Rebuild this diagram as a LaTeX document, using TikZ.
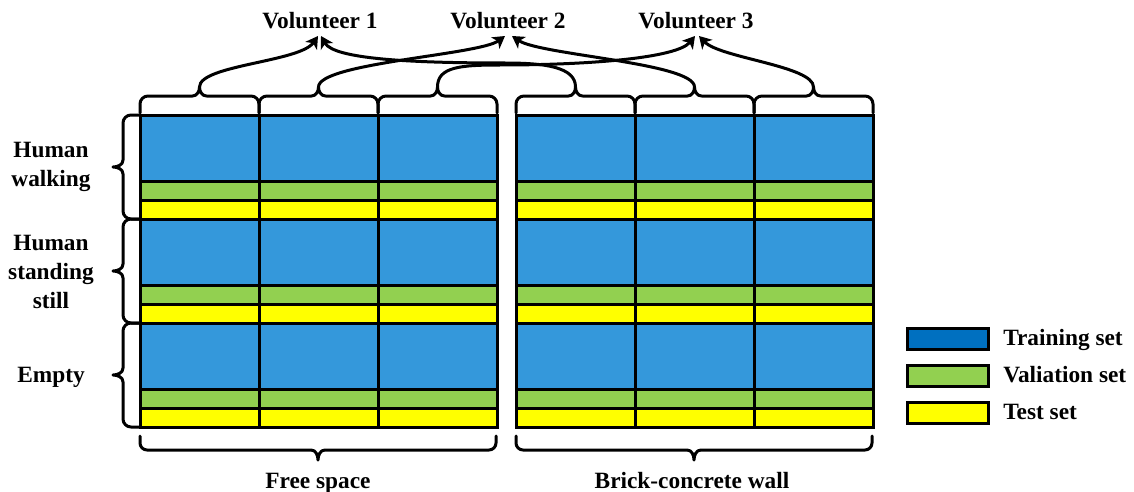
\documentclass[tikz,border=0pt]{standalone}
\usepackage{fontspec}
\setmainfont{Liberation Serif}
\usetikzlibrary{arrows.meta}
\definecolor{trainblue}{RGB}{52,152,219}
\definecolor{trainkey}{RGB}{0,112,192}
\definecolor{valgreen}{RGB}{146,208,80}
\definecolor{testyellow}{RGB}{255,255,0}

% horizontal brace opening downwards: #1 left x, #2 right x, #3 tip name
\newcommand{\topbrace}[3]{%
  \pgfmathsetmacro{\bm}{(#1+#2)/2}%
  \draw[brace] (#1,113) -- (#1,104) to[out=90,in=180] ({#1+8},96) -- ({\bm-7},96)
    to[out=0,in=-90] (\bm,87) to[out=-90,in=180] ({\bm+7},96) -- ({#2-8},96)
    to[out=0,in=90] (#2,104) -- (#2,113);
  \coordinate (#3) at (\bm,87);}
% horizontal brace opening upwards
\newcommand{\botbrace}[2]{%
  \pgfmathsetmacro{\bm}{(#1+#2)/2}%
  \draw[brace] (#1,436) -- (#1,443) to[out=-90,in=180] ({#1+7},450) -- ({\bm-7},450)
    to[out=0,in=90] (\bm,460) to[out=90,in=180] ({\bm+7},450) -- ({#2-7},450)
    to[out=0,in=-90] (#2,443) -- (#2,436);}
% vertical brace opening to the right
\newcommand{\sidebrace}[2]{%
  \pgfmathsetmacro{\bm}{(#1+#2)/2}%
  \draw[brace] (139,#1) -- (131,#1) to[out=180,in=90] (123,{#1+8}) -- (123,{\bm-7})
    to[out=-90,in=0] (113,\bm) to[out=0,in=90] (123,{\bm+7}) -- (123,{#2-8})
    to[out=-90,in=180] (131,#2) -- (139,#2);}

\begin{document}
\begin{tikzpicture}[x=0.75pt,y=-0.75pt,
  lbl/.style={font=\fontsize{17.5}{21.75}\selectfont\bfseries, inner sep=0pt},
  cell/.style={draw=black, line width=2.25pt},
  brace/.style={draw=black, line width=2.25pt, line cap=round, line join=round},
  link/.style={draw=black, line width=2.25pt, line cap=round,
    -{Stealth[length=9pt,width=10.5pt,inset=2.5pt]}}]
\useasboundingbox (0,0) rectangle (1134,492);

% data grid: two blocks, three volunteers, three scenarios
\foreach \bx in {140,516} {
  \foreach \c in {0,1,2} {
    \foreach \gy in {115,219,323} {
      \pgfmathsetmacro{\cx}{\bx+\c*119}
      \filldraw[cell, fill=trainblue] (\cx,\gy) rectangle ++(119,66);
      \filldraw[cell, fill=valgreen] (\cx,{\gy+66}) rectangle ++(119,19);
      \filldraw[cell, fill=testyellow] (\cx,{\gy+85}) rectangle ++(119,19);
    }
  }
}

% braces over the columns
\topbrace{140}{259}{bL1}
\topbrace{259}{378}{bL2}
\topbrace{378}{497}{bL3}
\topbrace{516}{635}{bR1}
\topbrace{635}{754}{bR2}
\topbrace{754}{873}{bR3}

% braces beside the scenarios
\sidebrace{115}{219}
\sidebrace{219}{323}
\sidebrace{323}{427}

% braces under the blocks
\botbrace{140}{496}
\botbrace{516}{872}

% volunteer labels and arrow ends
\node[lbl] (vol1) at (320,21) {Volunteer 1};
\node[lbl] (vol2) at (508,21) {Volunteer 2};
\node[lbl] (vol3) at (696,21) {Volunteer 3};
\coordinate (v1a) at (318,36);
\coordinate (v1b) at (321,36);
\coordinate (v2a) at (505,36);
\coordinate (v2b) at (512,36);
\coordinate (v3a) at (695,36);
\coordinate (v3b) at (699,36);

% each column of each block goes to its volunteer
\draw[link] (bL1) .. controls +(0,-22) and +(-18,26) .. (v1a);
\draw[link] (bR1) .. controls +(0,-20) and +(40,0) .. (505,63)
  .. controls +(-95,0) and +(13,23) .. (v1b);
\draw[link] (bL2) .. controls +(0,-24) and +(-26,19) .. (v2a);
\draw[link] (bR2) .. controls +(0,-24) and +(28,19) .. (v2b);
\draw[link] (bL3) .. controls +(0,-20) and +(-40,0) .. (500,65)
  .. controls +(90,0) and +(-18,22) .. (v3a);
\draw[link] (bR3) .. controls +(0,-21) and +(21,22) .. (v3b);

% scenario labels
\node[lbl, align=center] (walk) at (51,167) {Human\\walking};
\node[lbl, align=center] (stand) at (51,272) {Human\\standing\\still};
\node[lbl] (empty) at (51,377) {Empty};

% environment labels
\node[lbl, anchor=base] (free) at (318,488) {Free space};
\node[lbl, anchor=base] (wall) at (692,488) {Brick-concrete wall};

% legend
\filldraw[cell, fill=trainkey] (907,328) rectangle (988,349);
\filldraw[cell, fill=valgreen] (907,365) rectangle (988,386);
\filldraw[cell, fill=testyellow] (907,402) rectangle (988,423);
\node[lbl, anchor=base west] (ktrain) at (1003,345) {Training set};
\node[lbl, anchor=base west] (kval) at (1003,382) {Valiation set};
\node[lbl, anchor=base west] (ktest) at (1003,419) {Test set};
\end{tikzpicture}
\end{document}
